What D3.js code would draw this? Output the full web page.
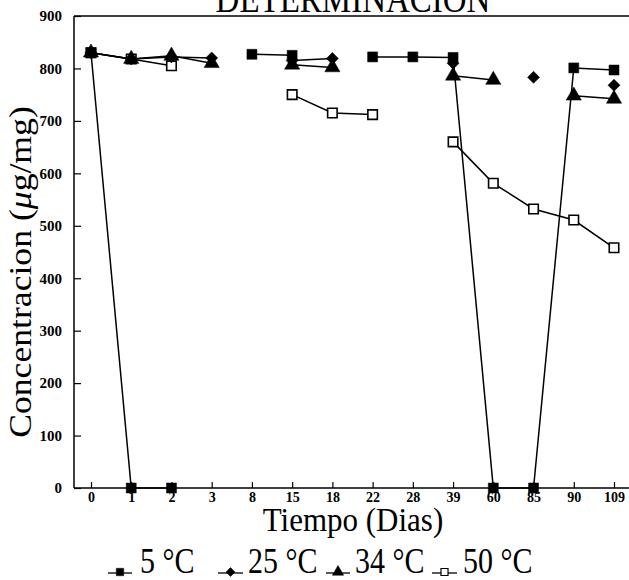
<!DOCTYPE html>
<html>
<head>
<meta charset="utf-8">
<script src="https://cdn.jsdelivr.net/npm/d3@7"></script>
<style>
  body { margin: 0; background: #fff; }
  svg { display: block; }
  text { font-family: "Liberation Serif", "Times New Roman", "DejaVu Serif", serif; fill: #000; }
</style>
</head>
<body>
<svg id="chart" width="629" height="580"></svg>
<script>
const days = ["0","1","2","3","8","15","18","22","28","39","60","85","90","109"];
const yTicks = [0,100,200,300,400,500,600,700,800,900];
const s5  = [830, 0, 0, null, 827, 825, null, 822, 822, 821, 0, 0, 801, 797];
const s25 = [830, 818, 822, 820, null, 815, 819, null, null, 810, null, 783, null, 768];
const s34 = [830, 818, 824, 810, null, 807, 802, null, null, 786, 778, null, 748, 742];
const s50 = [830, 818, 805, null, null, 750, 715, 712, null, 660, 581, 532, 511, 458];
const seriesNames = ["5 °C", "25 °C", "34 °C", "50 °C"];
const seriesData = [s5, s25, s34, s50];
const title = "DETERMINACION";
const xTitle = "Tiempo (Dias)";

const FONT = "'Liberation Serif', 'Times New Roman', serif";
const svg = d3.select("#chart");
const L = 74, R = 629, T = 16, B = 488;

const x = d3.scalePoint().domain(days).range([91, 614]);
const y = d3.scaleLinear().domain([0, 900]).range([B, T]);

// frame lines (left, bottom, top)
const frame = svg.append("g").attr("stroke", "#000").attr("stroke-width", 1.5);
frame.append("line").attr("x1", L).attr("x2", L).attr("y1", T).attr("y2", B);
frame.append("line").attr("x1", L).attr("x2", R).attr("y1", B).attr("y2", B);
frame.append("line").attr("x1", L).attr("x2", R).attr("y1", T).attr("y2", T);

// y axis
const ya = svg.append("g").attr("transform", `translate(${L},0)`)
  .call(d3.axisLeft(y).tickValues(yTicks).tickSizeInner(-7).tickSizeOuter(0).tickPadding(12));
ya.select(".domain").remove();
ya.selectAll("line").attr("stroke-width", 1.2);
ya.selectAll("text").style("font-size", "15px").style("font-weight", "bold")
  .style("font-family", FONT);

// x axis
const xa = svg.append("g").attr("transform", `translate(0,${B})`)
  .call(d3.axisBottom(x).tickSizeInner(-6).tickSizeOuter(0).tickPadding(4));
xa.select(".domain").remove();
xa.selectAll("line").attr("stroke-width", 1.2);
xa.selectAll("text").style("font-size", "14px").style("font-weight", "bold")
  .style("font-family", FONT);

// symbols
const shapes = [
  {type: d3.symbolSquare, size: 100, fill: "#000", rot: 0},
  {type: d3.symbolSquare, size: 72, fill: "#000", rot: 45},
  {type: d3.symbolTriangle, size: 100, fill: "#000", rot: 0},
  {type: d3.symbolSquare, size: 90, fill: "#fff", rot: 0}
];

const line = d3.line()
  .defined(d => d.v !== null)
  .x(d => x(d.k))
  .y(d => y(d.v));

seriesData.forEach((arr, i) => {
  const pts = days.map((k, j) => ({k, v: arr[j]}));
  svg.append("path").datum(pts)
    .attr("d", line)
    .attr("fill", "none").attr("stroke", "#000").attr("stroke-width", 1.5);
});
[3, 2, 1, 0].forEach(i => {
  const arr = seriesData[i];
  const pts = days.map((k, j) => ({k, v: arr[j]})).filter(d => d.v !== null);
  svg.append("g").selectAll("path").data(pts).join("path")
    .attr("transform", d => `translate(${x(d.k)},${y(d.v)}) rotate(${shapes[i].rot})`)
    .attr("d", d3.symbol().type(shapes[i].type).size(shapes[i].size))
    .attr("fill", shapes[i].fill).attr("stroke", "#000").attr("stroke-width", i === 3 ? 1.6 : 0.5);
});

// title
svg.append("text").attr("text-anchor", "middle")
  .attr("transform", "translate(353,12) scale(1,1.2)")
  .style("font-size", "33px").text(title);

// y title
const yt = svg.append("text").attr("text-anchor", "middle")
  .attr("transform", "translate(31,272) rotate(-90) scale(1.15,1)")
  .style("font-size", "31px");
yt.append("tspan").text("Concentracion (");
yt.append("tspan").style("font-style", "italic").text("μ");
yt.append("tspan").text("g/mg)");

// x title
svg.append("text").attr("text-anchor", "middle")
  .attr("transform", "translate(353,531) scale(1,1.12)")
  .style("font-size", "31px").text(xTitle);

// legend
const legendPos = [
  {lx1: 108, lx2: 132, tx: 140},
  {lx1: 218, lx2: 243, tx: 248},
  {lx1: 326, lx2: 350, tx: 355},
  {lx1: 432, lx2: 457, tx: 463}
];
seriesNames.forEach((name, i) => {
  const p = legendPos[i];
  const g = svg.append("g");
  g.append("line").attr("x1", p.lx1).attr("x2", p.lx2).attr("y1", 573).attr("y2", 573)
    .attr("stroke", "#000").attr("stroke-width", 1.3);
  g.append("path").attr("transform", `translate(${(p.lx1 + p.lx2) / 2},572) rotate(${shapes[i].rot})`)
    .attr("d", d3.symbol().type(shapes[i].type).size(shapes[i].size * 0.55))
    .attr("fill", shapes[i].fill).attr("stroke", "#000").attr("stroke-width", i === 3 ? 1.2 : 0.5);
  g.append("text").attr("transform", `translate(${p.tx},573) scale(1,1.2)`)
    .style("font-size", "30px").text(name);
});
</script>
</body>
</html>
